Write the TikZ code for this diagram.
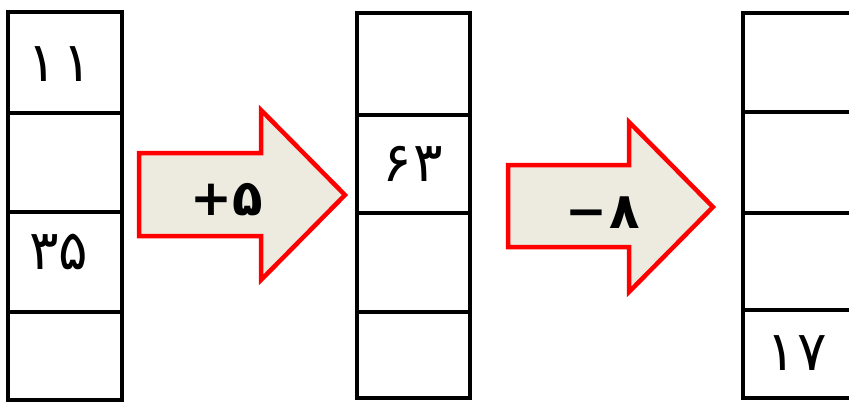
\documentclass[tikz,border=0pt]{standalone}
\usepackage{fontspec}
\newfontfamily\farsi[Script=Arabic]{DejaVu Sans}
\definecolor{arrowfill}{RGB}{237,235,224}
\tikzset{
	cell/.style={line width=4.5pt},
	bigarrow/.style={draw=red,fill=arrowfill,line width=4.5pt},
	num/.style={font=\farsi\fontsize{55}{55}\selectfont,inner sep=0pt},
	sign/.style={font=\farsi\bfseries\fontsize{50}{50}\selectfont,inner sep=0pt},
}

\begin{document}
\begin{tikzpicture}[x=1pt,y=-1pt]
		
		\clip (0,0) rectangle (849,404);
		
		% first column
		\draw[cell] (8,12) rectangle (122,400);
		\draw[cell] (8,113) -- (122,113);
		\draw[cell] (8,212) -- (122,212);
		\draw[cell] (8,312) -- (122,312);
		
		% second column
		\draw[cell] (357,13) rectangle (470,398);
		\draw[cell] (357,115) -- (470,115);
		\draw[cell] (357,213) -- (470,213);
		\draw[cell] (357,312) -- (470,312);
		
		% third column
		\draw[cell] (743,13) rectangle (880,398);
		\draw[cell] (743,112) -- (880,112);
		\draw[cell] (743,213) -- (880,213);
		\draw[cell] (743,310) -- (880,310);
		
		\draw[bigarrow] (139,153) -- (261,153) -- (261,110) -- (345,195) -- (261,280) -- (261,236) -- (139,236) -- cycle;
		\draw[bigarrow] (508,165) -- (629,165) -- (629,122) -- (713,207) -- (629,292) -- (629,247) -- (508,247) -- cycle;
		
		\node[num] (eleven) at (60,64) {\hbox{۱}\hspace{6pt}\hbox{۱}};
		\node[num] (thirtyfive) at (59,252) {\hbox{۳}\hbox{۵}};
		\node[num] (sixtythree) at (413,164) {\hbox{۶}\hspace{2pt}\hbox{۳}};
		\node[num] (seventeen) at (797,353) {\hbox{۱}\hspace{2pt}\hbox{۷}};
		
		\node[sign] (plusfive) at (227,200) {\hbox{+}\hbox{۵}};
		\node[sign] (minuseight) at (603,213) {\hbox{−}\hspace{2pt}\hbox{۸}};
	\end{tikzpicture}
\end{document}
